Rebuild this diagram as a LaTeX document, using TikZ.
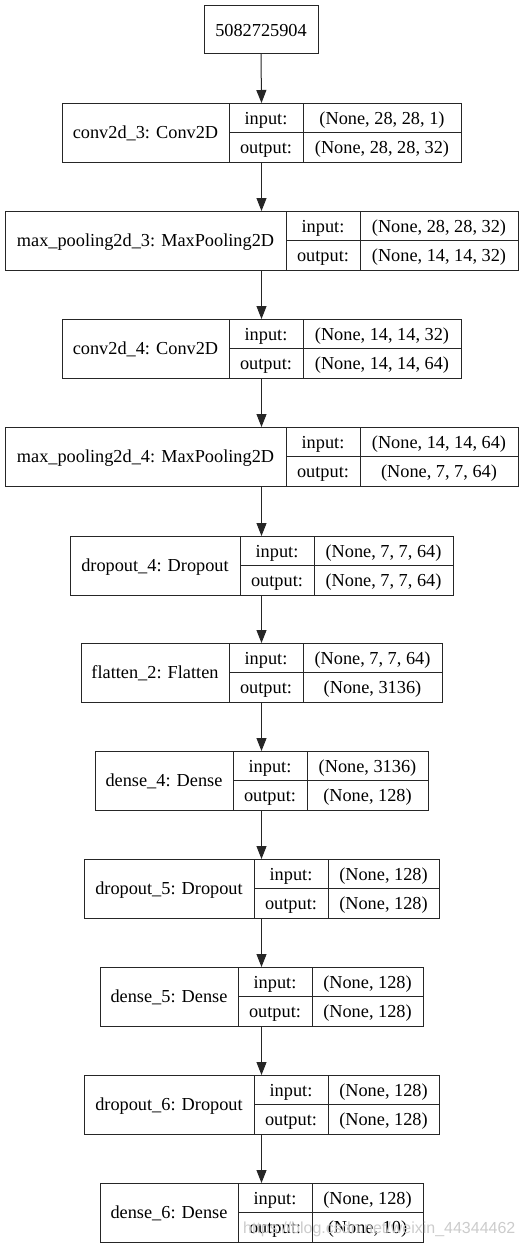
\documentclass[tikz,border=0pt]{standalone}
\usepackage{fontspec}
\setmainfont{Liberation Serif}
\newfontfamily\wmfont{Liberation Sans}
\usetikzlibrary{arrows.meta}
\tikzset{
  boxline/.style={draw=black!85, line width=1pt},
  lbl/.style={inner sep=0pt, anchor=base, font=\fontsize{18.3}{20}\selectfont},
  conn/.style={draw=black!85, line width=1pt, -{Triangle[length=13pt,width=10pt]}, shorten >=0pt},
}
% #1 id, #2 x0, #3 divider1, #4 divider2, #5 top, #6 label, #7 input shape, #8 output shape
\newcommand\kerasLayer[8]{%
  \node[boxline, inner sep=0pt, anchor=north, minimum width={(523-2*#2)*1pt}, minimum height=58.5pt] (#1) at (261.5,#5) {};
  \draw[boxline] (#3,#5) -- (#3,{#5+58.5});
  \draw[boxline] (#4,#5) -- (#4,{#5+58.5});
  \draw[boxline] (#3,{#5+29.25}) -- ({523-#2},{#5+29.25});
  \node[lbl] (#1-name) at ({(#2+#3)/2},{#5+35.5}) {#6};
  \node[lbl] (#1-inl) at ({(#3+#4)/2},{#5+21}) {input:};
  \node[lbl] (#1-outl) at ({(#3+#4)/2},{#5+50}) {output:};
  \node[lbl] (#1-in) at ({(#4+523-#2)/2},{#5+21}) {#7};
  \node[lbl] (#1-out) at ({(#4+523-#2)/2},{#5+50}) {#8};
}
\begin{document}
\begin{tikzpicture}[x=1pt,y=-1pt]
\useasboundingbox[fill=white] (0,0) rectangle (525,1248);
\node[boxline, inner sep=0pt, anchor=north, minimum width=114pt, minimum height=48pt] (L0) at (261,5) {};
\node[lbl] (L0-name) at (261,36) {5082725904};
\kerasLayer{L1}{62}{229}{303}{103}{conv2d\_3: Conv2D}{(None, 28, 28, 1)}{(None, 28, 28, 32)}
\kerasLayer{L2}{5}{286}{360}{211}{max\_pooling2d\_3: MaxPooling2D}{(None, 28, 28, 32)}{(None, 14, 14, 32)}
\kerasLayer{L3}{62}{229}{303}{319}{conv2d\_4: Conv2D}{(None, 14, 14, 32)}{(None, 14, 14, 64)}
\kerasLayer{L4}{5}{286}{360}{427}{max\_pooling2d\_4: MaxPooling2D}{(None, 14, 14, 64)}{(None, 7, 7, 64)}
\kerasLayer{L5}{70}{240}{314}{536}{dropout\_4: Dropout}{(None, 7, 7, 64)}{(None, 7, 7, 64)}
\kerasLayer{L6}{81}{229}{303}{643}{flatten\_2: Flatten}{(None, 7, 7, 64)}{(None, 3136)}
\kerasLayer{L7}{95}{233}{307}{751}{dense\_4: Dense}{(None, 3136)}{(None, 128)}
\kerasLayer{L8}{84}{254}{328}{859}{dropout\_5: Dropout}{(None, 128)}{(None, 128)}
\kerasLayer{L9}{100}{238}{312}{967}{dense\_5: Dense}{(None, 128)}{(None, 128)}
\kerasLayer{L10}{84}{254}{328}{1075}{dropout\_6: Dropout}{(None, 128)}{(None, 128)}
\kerasLayer{L11}{100}{238}{312}{1183}{dense\_6: Dense}{(None, 128)}{(None, 10)}
\foreach \a/\b in {L0/L1,L1/L2,L2/L3,L3/L4,L4/L5,L5/L6,L6/L7,L7/L8,L8/L9,L9/L10,L10/L11}{
  \draw[conn] (\a.south) -- (\b.north);
}
\node[inner sep=0pt, anchor=base west, text=black!20, font=\wmfont\fontsize{16}{18}\selectfont] (wm) at (243,1233) {https://blog.csdn.net/weixin\_44344462};
\end{tikzpicture}
\end{document}
